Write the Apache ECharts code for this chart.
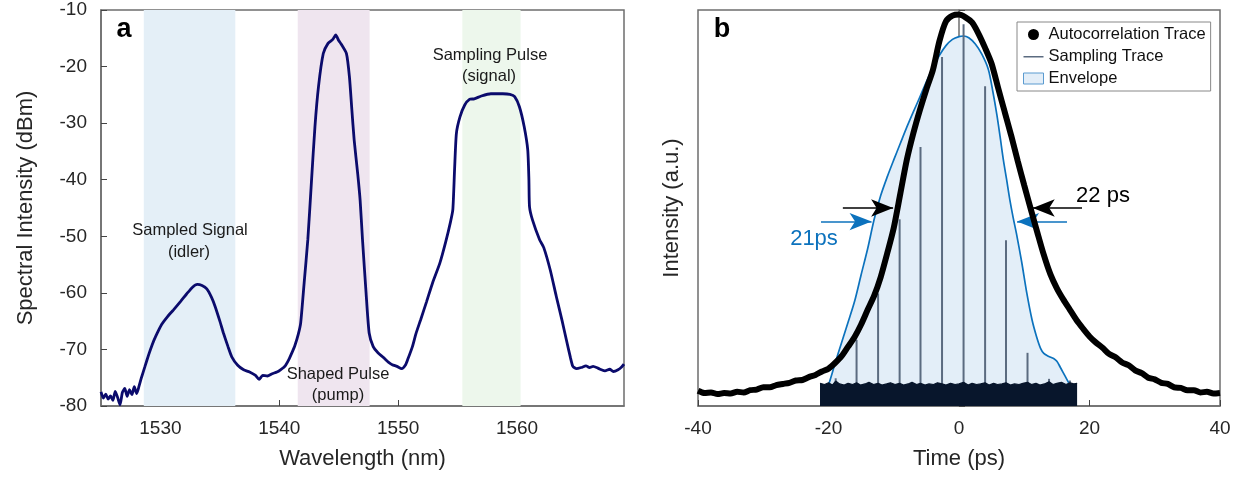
<!DOCTYPE html>
<html><head><meta charset="utf-8">
<script src="https://cdn.jsdelivr.net/npm/echarts@6/dist/echarts.min.js"></script>
<style>html,body{margin:0;padding:0;background:#fff}#c{width:1242px;height:477px}</style>
</head><body><div id="c"></div>
<script>
// ---------- Panel a: spectrum ----------
const wavelength = [1525.0,1525.2,1525.4,1525.6,1525.8,1526.0,1526.2,1526.4,1526.6,1526.8,1527.0,1527.2,1527.4,1527.6,1527.8,1528.0,1528.2,1528.4,1528.7,1529.0,1529.3,1529.6,1530.1,1530.6,1531.1,1531.7,1532.2,1532.7,1533.1,1533.5,1533.9,1534.3,1534.6,1535.0,1535.3,1535.7,1536.0,1536.5,1537.0,1537.5,1538.0,1538.3,1538.6,1539.0,1539.4,1539.8,1540.1,1540.5,1540.8,1541.1,1541.3,1541.6,1541.8,1542.1,1542.4,1542.7,1543.0,1543.3,1543.7,1544.1,1544.5,1544.75,1545.0,1545.2,1545.65,1545.9,1546.1,1546.3,1546.6,1546.8,1547.0,1547.3,1547.56,1547.9,1548.3,1548.8,1549.2,1549.5,1549.9,1550.3,1550.6,1550.8,1551.2,1551.5,1551.9,1552.4,1552.9,1553.5,1554.0,1554.4,1554.6,1554.75,1554.9,1555.2,1555.6,1556.0,1556.4,1557.0,1557.8,1558.8,1559.4,1559.8,1560.2,1560.6,1560.9,1561.0,1561.05,1561.3,1561.9,1562.25,1562.8,1563.3,1563.8,1564.15,1564.5,1564.7,1565.0,1565.4,1565.8,1566.1,1566.4,1566.8,1567.1,1567.4,1567.8,1568.1,1568.5,1568.8,1569.0];
const spectrumDbm = [-77.5,-78.6,-77.9,-78.8,-78.2,-79.0,-77.4,-78.5,-79.8,-77.6,-76.9,-78.3,-77.1,-78.0,-76.6,-77.8,-76.5,-75.0,-73.0,-71.0,-69.2,-67.7,-65.6,-64.2,-63.0,-61.5,-60.2,-59.0,-58.5,-58.7,-59.3,-60.8,-62.4,-65.0,-67.1,-69.6,-71.3,-72.8,-73.6,-74.0,-74.6,-75.3,-74.6,-74.7,-74.3,-74.0,-73.6,-72.9,-71.8,-70.4,-69.4,-67.3,-65.3,-58.0,-50.6,-40.5,-30.6,-23.5,-17.7,-15.9,-15.2,-14.4,-15.4,-16.0,-17.7,-21.8,-27.5,-33.0,-39.0,-43.6,-50.6,-60.0,-67.1,-69.5,-70.6,-71.5,-72.3,-72.7,-73.0,-73.4,-72.8,-71.8,-69.5,-67.2,-64.7,-61.5,-58.2,-54.8,-51.0,-47.5,-45.3,-38.0,-31.8,-28.9,-26.8,-25.8,-25.7,-25.2,-24.8,-24.8,-24.9,-25.3,-27.1,-30.6,-34.7,-40.0,-44.75,-47.1,-50.6,-52.0,-56.0,-60.6,-65.0,-68.3,-71.5,-73.0,-73.4,-73.2,-72.9,-73.2,-73.0,-73.3,-73.6,-73.8,-73.5,-73.9,-73.6,-73.1,-72.6];
const bandStart = [1528.6, 1541.55, 1555.4];
const bandEnd   = [1536.3, 1547.6, 1560.3];
const bandColors = ['#e4eff7', '#efe5ef', '#edf7ec'];
const wlTicks = [1530, 1540, 1550, 1560];

// ---------- Panel b: autocorrelation ----------
const acTime = [];
for (let t = -40; t <= 40; t++) acTime.push(t);
const acValues = [0.27,0.23,0.24,0.21,0.23,0.22,0.25,0.24,0.28,0.29,0.33,0.33,0.37,0.39,0.41,0.45,0.46,0.51,0.55,0.61,0.66,0.76,0.88,1.05,1.22,1.44,1.70,1.95,2.28,2.70,3.15,3.75,4.35,4.82,5.23,5.60,5.94,6.45,6.80,6.90,6.92,6.87,6.78,6.58,6.33,6.05,5.62,5.20,4.78,4.33,3.90,3.48,3.07,2.67,2.33,2.08,1.88,1.70,1.52,1.37,1.23,1.12,1.03,0.92,0.86,0.77,0.72,0.63,0.58,0.50,0.47,0.41,0.39,0.33,0.32,0.28,0.28,0.24,0.25,0.22,0.23];
const envTime = [-21,-20,-19,-18,-17,-16,-15,-14,-13,-12,-11,-10,-9,-8,-7,-6,-5,-4,-3,-2,-1,0,0.7,1.5,2.5,3.5,4.5,5.2,5.8,6.3,6.8,7.3,7.8,8.3,8.8,9.6,10.4,11.2,11.9,12.5,13,13.7,14.5,15,15.5,16.2,17,17.6];
const envValues = [0.05,0.37,0.75,1.12,1.48,1.85,2.32,2.78,3.30,3.72,4.05,4.35,4.64,4.93,5.20,5.46,5.73,5.98,6.20,6.37,6.48,6.53,6.54,6.51,6.40,6.22,5.95,5.55,5.15,4.76,4.35,4.00,3.64,3.33,3.05,2.55,1.99,1.52,1.22,1.02,0.93,0.88,0.84,0.79,0.69,0.54,0.37,0.20];
const sampleTimes = [-18.9,-15.7,-12.4,-9.1,-5.9,-2.6,0.7,4.0,7.2,10.5,13.8,17.0];
const sampleValues = [0.49,1.17,1.99,3.30,4.58,6.17,6.75,5.65,2.93,0.94,0.48,0.45];
const floorTimes = [-21.3,-20.6,-20,-19.4,-18.9,-18.3,-17.6,-17,-16.3,-15.7,-15.1,-14.4,-13.8,-13.1,-12.4,-11.8,-11.1,-10.5,-9.8,-9.1,-8.5,-7.8,-7.2,-6.5,-5.9,-5.2,-4.6,-3.9,-3.3,-2.6,-2,-1.3,-0.6,0,0.7,1.4,2,2.7,3.3,4,4.6,5.3,5.9,6.6,7.2,7.9,8.5,9.2,9.8,10.5,11.1,11.8,12.4,13.1,13.8,14.4,15,15.7,16.4,17,17.6,18.1];
const floorValues = [0.40,0.38,0.41,0.37,0.44,0.39,0.37,0.40,0.38,0.41,0.37,0.39,0.42,0.38,0.40,0.37,0.39,0.41,0.38,0.40,0.37,0.39,0.42,0.38,0.40,0.37,0.39,0.38,0.41,0.39,0.37,0.40,0.38,0.39,0.42,0.37,0.40,0.38,0.39,0.41,0.37,0.40,0.38,0.39,0.41,0.37,0.39,0.38,0.40,0.42,0.38,0.40,0.37,0.39,0.43,0.38,0.40,0.42,0.38,0.41,0.39,0.40];
// FWHM arrows (time, intensity)
const acArrowY = 3.5;
const acArrowLeft = [-17.8, -10.1];
const acArrowRight = [18.85, 11.3];
const envArrowY = 3.26;
const envArrowLeft = [-21.15, -13.4];
const envArrowRight = [16.55, 8.9];

const FONT = 'Liberation Sans, Arial, sans-serif';
const zip = (a, b) => a.map((v, i) => [v, b[i]]);
const axisGrey = '#6e6e6e';
const tickTextColor = '#262626';
const blue = '#0c72bd';
const plain = v => String(v);

const chart = echarts.init(document.getElementById('c'), null, {renderer: 'canvas'});

function arrow(from, to, y, color) {
  return [
    {coord: [from, y], symbol: 'none', lineStyle: {color: color, width: 1.6, type: 'solid'}},
    {coord: [to, y], symbol: 'arrow', symbolSize: [13, 22]}
  ];
}
function txt(x, y, s, size, color, bold) {
  return {type: 'text', x: x, y: y, z: 100, zlevel: 0,
          style: {text: s, font: (bold ? 'bold ' : '') + size + 'px ' + FONT, fill: color, align: 'center', verticalAlign: 'middle'}};
}

const option = {
  animation: false,
  backgroundColor: '#fff',
  textStyle: {fontFamily: FONT},
  grid: [
    {left: 101, top: 10, width: 523, height: 396, show: true, borderColor: axisGrey, borderWidth: 1.5, backgroundColor: 'transparent'},
    {left: 698, top: 10, width: 522, height: 396, show: true, borderColor: axisGrey, borderWidth: 1.5, backgroundColor: 'transparent'}
  ],
  xAxis: [
    {gridIndex: 0, type: 'value', min: 1525, max: 1569,
     name: 'Wavelength (nm)', nameLocation: 'middle', nameGap: 42,
     nameTextStyle: {fontSize: 22, color: tickTextColor, fontFamily: FONT},
     axisLine: {lineStyle: {color: axisGrey, width: 1.5}},
     axisTick: {inside: true, length: 6, lineStyle: {color: '#444'}, customValues: wlTicks},
     axisLabel: {fontSize: 19, color: tickTextColor, margin: 13, fontFamily: FONT, customValues: wlTicks, formatter: plain},
     splitLine: {show: false}},
    {gridIndex: 1, type: 'value', min: -40, max: 40, interval: 20,
     name: 'Time (ps)', nameLocation: 'middle', nameGap: 42,
     nameTextStyle: {fontSize: 22, color: tickTextColor, fontFamily: FONT},
     axisLine: {onZero: false, lineStyle: {color: axisGrey, width: 1.5}},
     axisTick: {inside: true, length: 6, lineStyle: {color: '#444'}},
     axisLabel: {fontSize: 19, color: tickTextColor, margin: 13, fontFamily: FONT, formatter: plain},
     splitLine: {show: false}}
  ],
  yAxis: [
    {gridIndex: 0, type: 'value', min: -80, max: -10, interval: 10,
     name: 'Spectral Intensity (dBm)', nameLocation: 'middle', nameGap: 64,
     nameTextStyle: {fontSize: 22, color: tickTextColor, fontFamily: FONT},
     axisLine: {lineStyle: {color: axisGrey, width: 1.5}},
     axisTick: {inside: true, length: 6, lineStyle: {color: '#444'}},
     axisLabel: {fontSize: 19, color: tickTextColor, margin: 14, fontFamily: FONT, formatter: plain},
     splitLine: {show: false}},
    {gridIndex: 1, type: 'value', min: 0, max: 7, interval: 1,
     name: 'Intensity (a.u.)', nameLocation: 'middle', nameGap: 15,
     nameTextStyle: {fontSize: 22, color: tickTextColor, fontFamily: FONT},
     axisLine: {lineStyle: {color: axisGrey, width: 1.5}},
     axisTick: {inside: true, length: 6, lineStyle: {color: '#444'}},
     axisLabel: {show: false},
     splitLine: {show: false}}
  ],
  legend: {
    left: 1017, top: 22, orient: 'vertical',
    backgroundColor: '#fff', borderColor: '#888', borderWidth: 1,
    padding: [4, 5, 4, 6], itemGap: 5, itemWidth: 20, itemHeight: 11,
    textStyle: {fontSize: 16.5, color: '#111', fontFamily: FONT},
    selectedMode: false,
    data: [
      {name: 'Autocorrelation Trace', icon: 'circle', itemStyle: {color: '#000', borderWidth: 0}},
      {name: 'Sampling Trace', icon: 'path://M0,0L0.01,0L0,0.01Z M0,5L20,5L20,6.6L0,6.6Z M19.99,11L20,11L20,10.99Z', itemStyle: {color: '#5b6b80', borderWidth: 0}},
      {name: 'Envelope', icon: 'rect', itemStyle: {color: '#e3eef8', borderColor: '#5b9bd0', borderWidth: 1}}
    ]
  },
  graphic: {elements: [
    txt(124, 30, 'a', 27, '#000', true),
    txt(722, 30, 'b', 27, '#000', true),
    txt(190, 230, 'Sampled Signal', 16.5, '#1a1a1a'),
    txt(189, 252, '(idler)', 16.5, '#1a1a1a'),
    txt(338, 374, 'Shaped Pulse', 16.5, '#1a1a1a'),
    txt(338, 395, '(pump)', 16.5, '#1a1a1a'),
    txt(490, 55, 'Sampling Pulse', 16.5, '#1a1a1a'),
    txt(489, 76, '(signal)', 16.5, '#1a1a1a'),
    txt(1103, 196, '22 ps', 22, '#000'),
    txt(814, 239, '21ps', 22, blue)
  ]},
  series: [
    {
      name: 'Spectrum', type: 'line', xAxisIndex: 0, yAxisIndex: 0,
      data: zip(wavelength, spectrumDbm), showSymbol: false, smooth: 0.2,
      lineStyle: {color: '#0b0b6c', width: 2.8}, itemStyle: {color: '#0b0b6c'}, z: 3,
      markArea: {
        silent: true, z: 1,
        data: bandStart.map((s, i) => [{xAxis: s, itemStyle: {color: bandColors[i]}}, {xAxis: bandEnd[i]}])
      }
    },
    {
      name: 'Envelope', type: 'line', xAxisIndex: 1, yAxisIndex: 1,
      data: zip(envTime, envValues), showSymbol: false, smooth: 0.3,
      lineStyle: {color: blue, width: 1.7}, itemStyle: {color: '#e3eef8'},
      areaStyle: {color: '#e3eef8', opacity: 1}, z: 2
    },
    {
      name: 'Sampling Trace', type: 'custom', xAxisIndex: 1, yAxisIndex: 1,
      data: zip(sampleTimes, sampleValues), itemStyle: {color: '#5b6b80'}, z: 3,
      renderItem: function (params, api) {
        const x = api.value(0), y = api.value(1);
        const p0 = api.coord([x, 0]), p1 = api.coord([x, y]);
        return {type: 'line', shape: {x1: p0[0], y1: p0[1], x2: p1[0], y2: p1[1]},
                style: {stroke: '#5b6b80', lineWidth: 2}};
      }
    },
    {
      name: 'Sampling floor', type: 'line', xAxisIndex: 1, yAxisIndex: 1,
      data: zip(floorTimes, floorValues), showSymbol: false,
      lineStyle: {color: '#08162c', width: 1.2}, itemStyle: {color: '#08162c'},
      areaStyle: {color: '#08162c', opacity: 1}, z: 4
    },
    {
      name: 'Autocorrelation Trace', type: 'line', xAxisIndex: 1, yAxisIndex: 1,
      data: zip(acTime, acValues), showSymbol: false, smooth: 0.25,
      lineStyle: {color: '#000', width: 6}, itemStyle: {color: '#000'}, z: 5,
      markLine: {
        silent: true, animation: false, label: {show: false},
        symbol: ['none', 'arrow'], symbolSize: [13, 22],
        data: [
          arrow(acArrowLeft[0], acArrowLeft[1], acArrowY, '#000'),
          arrow(acArrowRight[0], acArrowRight[1], acArrowY, '#000'),
          arrow(envArrowLeft[0], envArrowLeft[1], envArrowY, blue),
          arrow(envArrowRight[0], envArrowRight[1], envArrowY, blue)
        ]
      }
    }
  ]
};
chart.setOption(option);
</script></body></html>
